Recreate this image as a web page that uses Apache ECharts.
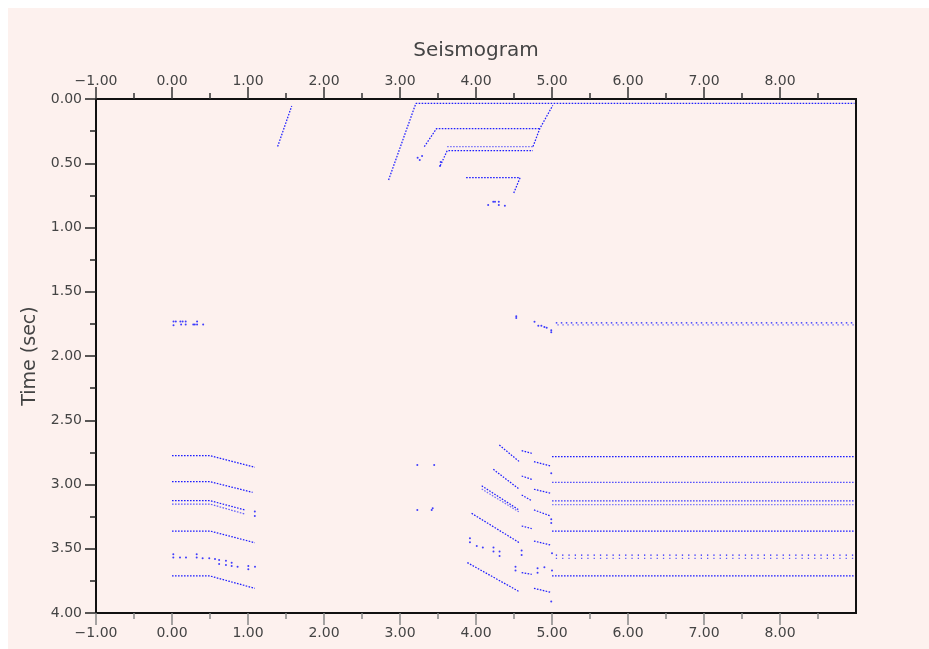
<!DOCTYPE html>
<html><head><meta charset="utf-8">
<script src="https://cdn.jsdelivr.net/npm/echarts@6/dist/echarts.min.js"></script>
<style>
html,body{margin:0;padding:0;background:#fff;}
#bg{position:absolute;left:8px;top:8px;width:921px;height:641px;background:#fdf1ee;}
#c{position:absolute;left:0;top:0;width:929px;height:649px;}
</style></head>
<body><div id="bg"></div><div id="c"></div>
<script>
// ---- tick labels ----
const xTickValues = [-1, 0, 1, 2, 3, 4, 5, 6, 7, 8];
const yTickValues = [0, 0.5, 1, 1.5, 2, 2.5, 3, 3.5, 4];

// ---- shallow events (x = offset, t = time in sec) ----
const dipShort   = [[1.39, 0.37], [1.575, 0.055]];
const event1     = [[2.85, 0.63], [3.19, 0.065], [3.21, 0.034], [8.98, 0.034]];
const event1Ramp = [[4.75, 0.37], [4.84, 0.23], [5.01, 0.05]];
const event2     = [[3.32, 0.371], [3.48, 0.231], [4.84, 0.231]];
const event3a    = [[3.53, 0.52], [3.62, 0.402], [4.75, 0.402]];
const event3b    = [[3.62, 0.371], [4.75, 0.371]];
const event4     = [[3.87, 0.612], [4.58, 0.612], [4.49, 0.742]];
const shallowDots = [[3.232, 0.457], [3.26, 0.475], [3.29, 0.444], [3.526, 0.521], [3.535, 0.49],
  [4.16, 0.825], [4.227, 0.80], [4.25, 0.80], [4.30, 0.80], [4.30, 0.825], [4.38, 0.83]];

// ---- 1.75 s event ----
const mid1750LeftDots = [[0.02, 1.732], [0.05, 1.732], [0.02, 1.76], [0.11, 1.732], [0.14, 1.732],
  [0.12, 1.755], [0.18, 1.732], [0.18, 1.755], [0.28, 1.755], [0.30, 1.755], [0.33, 1.732],
  [0.33, 1.755], [0.41, 1.755]];
const mid1750RightDots = [[4.53, 1.69], [4.53, 1.705], [4.77, 1.733], [4.82, 1.765], [4.86, 1.765],
  [4.90, 1.775], [4.93, 1.78], [4.99, 1.80], [4.99, 1.815]];
const event1750a = [[5.05, 1.742], [8.98, 1.742]];
const event1750b = [[5.07, 1.758], [8.98, 1.758]];

// ---- deep events, near offsets (0 - 1.1) ----
const leftEv1  = [[0.0, 2.776], [0.5, 2.776], [1.09, 2.866]];
const leftEv2  = [[0.0, 2.978], [0.5, 2.978], [1.06, 3.061]];
const leftEv3a = [[0.0, 3.126], [0.5, 3.126], [0.96, 3.198]];
const leftEv3b = [[0.0, 3.152], [0.5, 3.152], [0.96, 3.23]];
const leftEv4  = [[0.0, 3.362], [0.5, 3.362], [1.09, 3.453]];
const leftEv6  = [[0.0, 3.712], [0.5, 3.712], [1.09, 3.808]];
const leftDots = [[1.09, 3.21], [1.09, 3.245],
  [0.017, 3.543], [0.017, 3.569], [0.105, 3.569], [0.184, 3.569], [0.325, 3.543], [0.325, 3.569],
  [0.403, 3.574], [0.49, 3.574], [0.566, 3.58], [0.62, 3.587], [0.62, 3.619], [0.71, 3.593],
  [0.71, 3.626], [0.785, 3.608], [0.785, 3.634], [0.863, 3.64], [1.004, 3.634], [1.004, 3.66],
  [1.092, 3.64]];

// ---- deep events, far offsets (3.9 - 9) ----
const evA1 = [[4.307, 2.693], [4.57, 2.822]];
const evA2 = [[4.601, 2.737], [4.733, 2.757]];
const evA3 = [[4.763, 2.822], [4.982, 2.856]];
const evAflat = [[5.0, 2.784], [8.98, 2.784]];
const evB1 = [[4.228, 2.882], [4.57, 3.037]];
const evB2 = [[4.601, 2.934], [4.733, 2.96]];
const evB3 = [[4.763, 3.037], [4.982, 3.068]];
const evBflat = [[5.0, 2.983], [8.98, 2.983]];
const evC1a = [[4.075, 3.01], [4.57, 3.20]];
const evC1b = [[4.075, 3.035], [4.57, 3.215]];
const evC2 = [[4.601, 3.082], [4.733, 3.126]];
const evC3 = [[4.763, 3.198], [4.982, 3.245]];
const evCflatA = [[5.0, 3.128], [8.98, 3.128]];
const evCflatB = [[5.0, 3.157], [8.98, 3.157]];
const evD1 = [[3.942, 3.224], [4.57, 3.453]];
const evD2 = [[4.601, 3.323], [4.733, 3.343]];
const evD3 = [[4.763, 3.44], [4.982, 3.471]];
const evDflat = [[5.0, 3.362], [8.98, 3.362]];
const evEflatA = [[5.05, 3.55], [8.98, 3.55]];
const evEflatB = [[5.05, 3.575], [8.98, 3.575]];
const evF1 = [[3.886, 3.608], [4.57, 3.834]];
const evF2 = [[4.601, 3.686], [4.733, 3.699]];
const evF3 = [[4.763, 3.808], [4.982, 3.839]];
const evFflat = [[5.0, 3.712], [8.98, 3.712]];
const farDots = [[3.228, 2.848], [3.45, 2.848], [3.228, 3.198], [3.417, 3.198], [3.43, 3.185],
  [4.99, 2.913], [4.99, 3.27], [4.99, 3.30], [4.99, 3.91],
  [3.92, 3.419], [3.92, 3.45], [4.01, 3.479], [4.09, 3.49], [4.23, 3.49], [4.23, 3.522],
  [4.31, 3.522], [4.31, 3.556], [4.60, 3.514], [4.60, 3.549], [4.52, 3.64], [4.52, 3.67],
  [4.81, 3.652], [4.81, 3.686], [4.90, 3.644], [5.0, 3.535], [5.0, 3.67]];

// ---- styling helpers ----
const FONT = 'DejaVu Sans';
const BLUE = '#1f1fff';
const DOT = [1.6, 1.4];
const SPARSE = [1.3, 5];
const fmt = v => (v < 0 ? '\u2212' : '') + Math.abs(v).toFixed(2);

function ln(data, dash, opacity) {
  return {type: 'line', data, symbol: 'none', showSymbol: false, silent: true, animation: false,
    clip: true, lineStyle: {color: BLUE, width: 1.25, type: dash || DOT, opacity: opacity == null ? 1 : opacity}};
}
function dots(data) {
  return {type: 'scatter', data, symbolSize: 2, silent: true, animation: false,
    itemStyle: {color: BLUE, opacity: 0.85}};
}

const series = [
  ln(dipShort), ln(event1), ln(event1Ramp), ln(event2), ln(event3a), ln(event3b, DOT, 0.6), ln(event4),
  dots(shallowDots),
  dots(mid1750LeftDots), dots(mid1750RightDots), ln(event1750a, [1.5, 3.5]), ln(event1750b, [1.5, 3.5], 0.6),
  ln(leftEv1), ln(leftEv2), ln(leftEv3a), ln(leftEv3b, DOT, 0.7), ln(leftEv4), ln(leftEv6), dots(leftDots),
  ln(evA1), ln(evA2), ln(evA3), ln(evAflat),
  ln(evB1), ln(evB2), ln(evB3), ln(evBflat, DOT, 0.75),
  ln(evC1a), ln(evC1b, DOT, 0.6), ln(evC2), ln(evC3), ln(evCflatA, DOT, 0.85), ln(evCflatB, DOT, 0.55),
  ln(evD1), ln(evD2), ln(evD3), ln(evDflat),
  ln(evEflatA, SPARSE), ln(evEflatB, SPARSE, 0.7),
  ln(evF1), ln(evF2), ln(evF3), ln(evFflat),
  dots(farDots)
];

function xAxis(pos, tickColor, margin) {
  return {
    type: 'value', position: pos, min: -1, max: 9, interval: 1,
    axisLine: {show: true, onZero: false, lineStyle: {color: '#111', width: 2}},
    axisTick: {show: true, customValues: xTickValues, length: 12, lineStyle: {color: tickColor, width: 1.5}},
    minorTick: {show: true, splitNumber: 2, length: 6, lineStyle: {color: tickColor, width: 1.5}},
    axisLabel: {customValues: xTickValues, formatter: fmt, margin: margin, color: '#444',
      fontFamily: FONT, fontSize: 14},
    splitLine: {show: false}, minorSplitLine: {show: false}
  };
}

const chart = echarts.init(document.getElementById('c'), null, {renderer: 'canvas'});
chart.setOption({
  backgroundColor: 'transparent',
  animation: false,
  grid: {left: 96, top: 99, right: 73, bottom: 36, show: true, borderColor: '#111', borderWidth: 2,
    backgroundColor: 'transparent'},
  xAxis: [xAxis('bottom', '#888', 13), xAxis('top', '#333', 11)],
  yAxis: {
    type: 'value', inverse: true, min: 0, max: 4, interval: 0.5,
    name: 'Time (sec)', nameLocation: 'middle', nameGap: 55,
    nameTextStyle: {color: '#444', fontFamily: FONT, fontSize: 19},
    axisLine: {show: true, onZero: false, lineStyle: {color: '#111', width: 2}},
    axisTick: {show: true, customValues: yTickValues, length: 11, lineStyle: {color: '#222', width: 1.5}},
    minorTick: {show: true, splitNumber: 2, length: 6, lineStyle: {color: '#222', width: 1.5}},
    axisLabel: {customValues: yTickValues, formatter: v => v.toFixed(2), margin: 14, color: '#444',
      fontFamily: FONT, fontSize: 14},
    splitLine: {show: false}, minorSplitLine: {show: false}
  },
  graphic: [{type: 'text', x: 476, y: 51, silent: true,
    style: {text: 'Seismogram', fill: '#444', font: '20px "DejaVu Sans"', textAlign: 'center', textVerticalAlign: 'middle'}}],
  series: series
});
</script>
</body></html>
